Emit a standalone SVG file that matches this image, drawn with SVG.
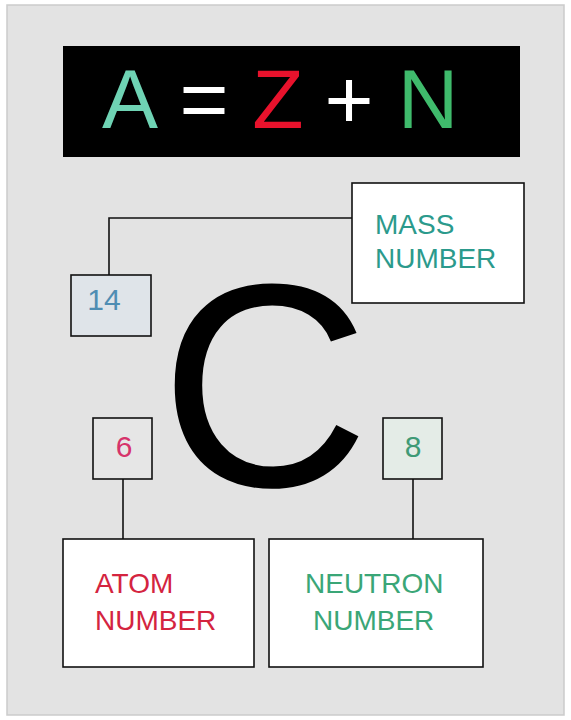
<svg xmlns="http://www.w3.org/2000/svg" width="571" height="720" viewBox="0 0 571 720">
  <style>
    .lbl { font-family: "Liberation Sans", Arial, sans-serif; font-size: 28px; }
    .num { font-family: "Liberation Sans", Arial, sans-serif; font-size: 30px; text-anchor: middle; }
    .eq { font-family: "Liberation Sans", Arial, sans-serif; font-size: 84px; text-anchor: middle; }
    .box { stroke: #111; stroke-width: 1.6; }
    .conn { fill: none; stroke: #111; stroke-width: 1.6; }
  </style>
  <rect x="0" y="0" width="571" height="720" fill="#ffffff"/>
  <rect x="7" y="5" width="557" height="710" fill="#e3e3e3" stroke="#cbcbcb" stroke-width="1.5"/>

  <g id="formula">
    <rect x="63" y="46" width="457" height="111" fill="#000000"/>
    <text class="eq" x="130" y="128" fill="#6fd3b4">A</text>
    <text class="eq" x="204" y="128" fill="#ffffff">=</text>
    <text class="eq" x="278" y="128" fill="#e8122c">Z</text>
    <text class="eq" x="349" y="128" fill="#ffffff">+</text>
    <text class="eq" x="428" y="128" fill="#3fbb6c">N</text>
  </g>

  <g id="connectors">
    <path class="conn" d="M352,218 H109 V275"/>
    <path class="conn" d="M123,479 V539"/>
    <path class="conn" d="M413,479 V539"/>
  </g>

  <g id="symbol">
    <text x="160" y="486" font-family="Liberation Sans, Arial, sans-serif" font-size="290" fill="#000000">C</text>
  </g>

  <g id="mass-number">
    <rect class="box" x="352" y="183" width="172" height="120" fill="#ffffff"/>
    <text class="lbl" x="375" y="234" fill="#2b9a8c">MASS</text>
    <text class="lbl" x="375" y="268" fill="#2b9a8c">NUMBER</text>
  </g>

  <g id="value-14">
    <rect class="box" x="71" y="275" width="80" height="61" fill="#dfe4e9"/>
    <text class="num" x="104" y="310" fill="#4f8db3">14</text>
  </g>

  <g id="value-6">
    <rect class="box" x="93" y="418" width="59" height="61" fill="#e6e6e6"/>
    <text class="num" x="124" y="457" fill="#d6336a">6</text>
  </g>

  <g id="value-8">
    <rect class="box" x="383" y="418" width="59" height="61" fill="#e4ece7"/>
    <text class="num" x="413" y="457" fill="#3f9a76">8</text>
  </g>

  <g id="atom-number">
    <rect class="box" x="63" y="539" width="191" height="128" fill="#ffffff"/>
    <text class="lbl" x="95" y="593" fill="#d4243f">ATOM</text>
    <text class="lbl" x="95" y="630" fill="#d4243f">NUMBER</text>
  </g>

  <g id="neutron-number">
    <rect class="box" x="269" y="539" width="214" height="128" fill="#ffffff"/>
    <text class="lbl" x="305" y="593" fill="#3aa677">NEUTRON</text>
    <text class="lbl" x="313" y="630" fill="#3aa677">NUMBER</text>
  </g>
</svg>
